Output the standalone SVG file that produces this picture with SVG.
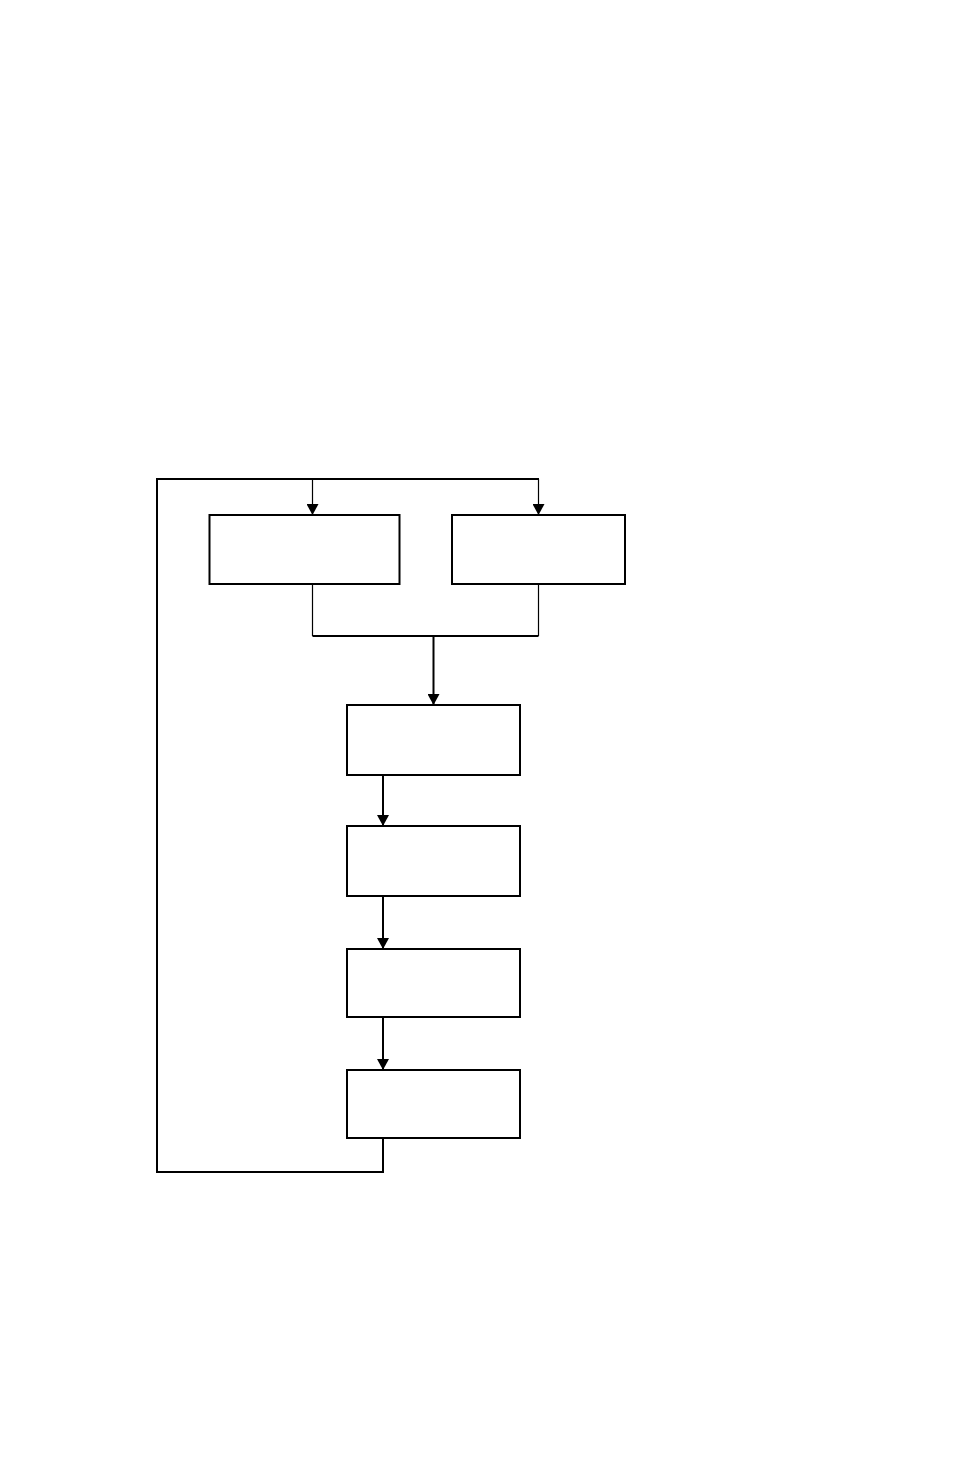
<svg xmlns="http://www.w3.org/2000/svg" width="954" height="1475" viewBox="0 0 954 1475">
<style>
.box{fill:#fff;stroke:#000;stroke-width:2}
.c{fill:none;stroke:#000;stroke-width:2}
.t{fill:none;stroke:#000;stroke-width:1.2}
</style>
<defs>
<marker id="a" markerUnits="userSpaceOnUse" markerWidth="12" markerHeight="12" refX="11" refY="6" orient="auto" viewBox="0 0 11 12">
<path d="M0,0 L11,6 L0,12 Z" fill="#000"/>
</marker>
</defs>
<rect width="954" height="1475" fill="#fff"/>
<g id="connectors">
<path class="c" d="M383,1138 V1172 H157 V479 H539"/>
<path class="t" d="M312.5,479 V515" marker-end="url(#a)"/>
<path class="t" d="M538.5,479 V515" marker-end="url(#a)"/>
<path class="t" d="M312.5,584 V636"/>
<path class="t" d="M538.5,584 V636"/>
<path class="c" d="M312.5,636 H538.5"/>
<path class="c" d="M433.5,636 V705" marker-end="url(#a)"/>
<path class="c" d="M383,775 V826" marker-end="url(#a)"/>
<path class="c" d="M383,896 V949" marker-end="url(#a)"/>
<path class="c" d="M383,1017 V1070" marker-end="url(#a)"/>
</g>
<g id="n1"><rect class="box" x="209.5" y="515" width="190" height="69"/></g>
<g id="n2"><rect class="box" x="452" y="515" width="173" height="69"/></g>
<g id="n3"><rect class="box" x="347" y="705" width="173" height="70"/></g>
<g id="n4"><rect class="box" x="347" y="826" width="173" height="70"/></g>
<g id="n5"><rect class="box" x="347" y="949" width="173" height="68"/></g>
<g id="n6"><rect class="box" x="347" y="1070" width="173" height="68"/></g>
</svg>
